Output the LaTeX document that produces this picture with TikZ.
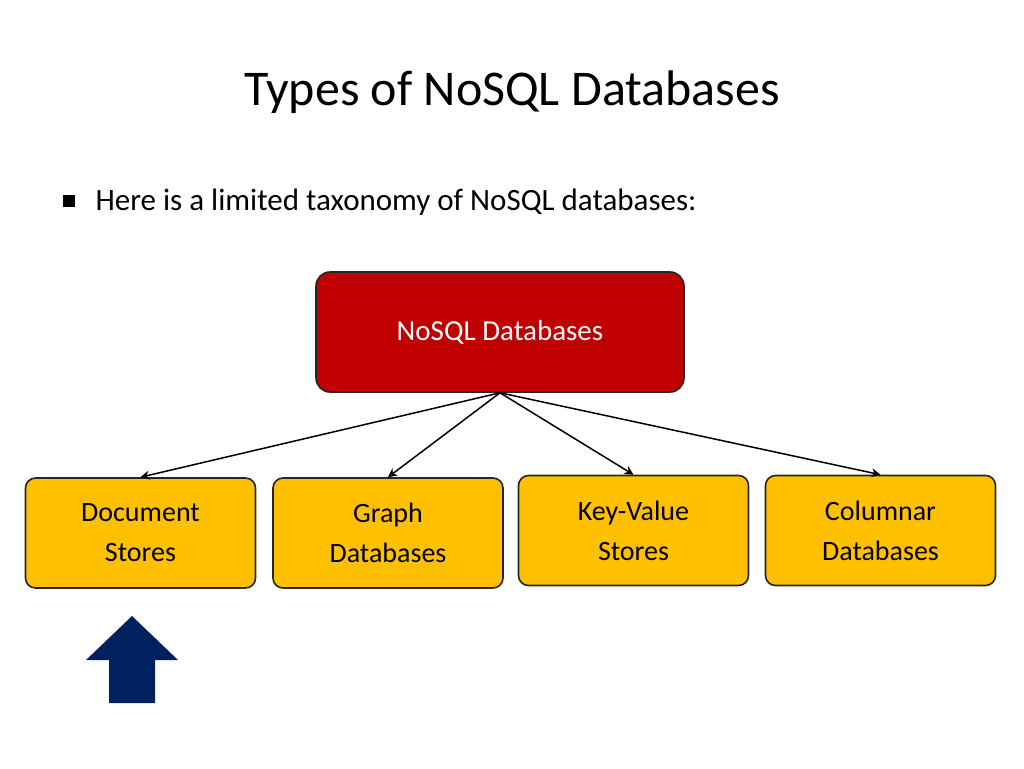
\documentclass[tikz,border=0pt]{standalone}
\usepackage{fontspec}
\setmainfont{Carlito}
\usetikzlibrary{arrows.meta}
\definecolor{ylw}{RGB}{255,192,0}
\definecolor{rd}{RGB}{192,0,0}
\definecolor{nv}{RGB}{0,32,96}
\begin{document}
\begin{tikzpicture}[x=1pt,y=-1pt,
  ybox/.style={draw=black!85,line width=1.6pt,rounded corners=10pt,fill=ylw,align=center,font=\fontsize{28}{40}\selectfont,minimum width=230pt,minimum height=110pt,inner sep=0pt},
  arr/.style={-{Stealth[length=9pt,width=9pt,open]},line width=1.5pt}]
\useasboundingbox (0,0) rectangle (1024,768);
\node (title) at (512,92) {\fontsize{50}{60}\selectfont Types of NoSQL Databases};
\fill (63,195) rectangle (75,207);
\node[anchor=west] (txt) at (92,202) {\fontsize{31}{36}\selectfont Here is a limited taxonomy of NoSQL databases:};
\node[draw=black!85,line width=1.6pt,rounded corners=14pt,fill=rd,text=white,minimum width=368pt,minimum height=120pt,font=\fontsize{29}{36}\selectfont] (root) at (500,332) {NoSQL Databases};
\node[ybox] (a) at (140.5,533) {Document\\Stores};
\node[ybox] (b) at (388,533) {Graph\\Databases};
\node[ybox] (c) at (633.5,530.5) {Key-Value\\Stores};
\node[ybox] (d) at (880.5,530.5) {Columnar\\Databases};
\foreach \n in {a,b,c,d} \draw[arr] (root.south) -- (\n.north);
\fill[nv] (109,703) -- (109,660) -- (86,660) -- (132,616) -- (178,660) -- (155,660) -- (155,703) -- cycle;
\end{tikzpicture}
\end{document}
